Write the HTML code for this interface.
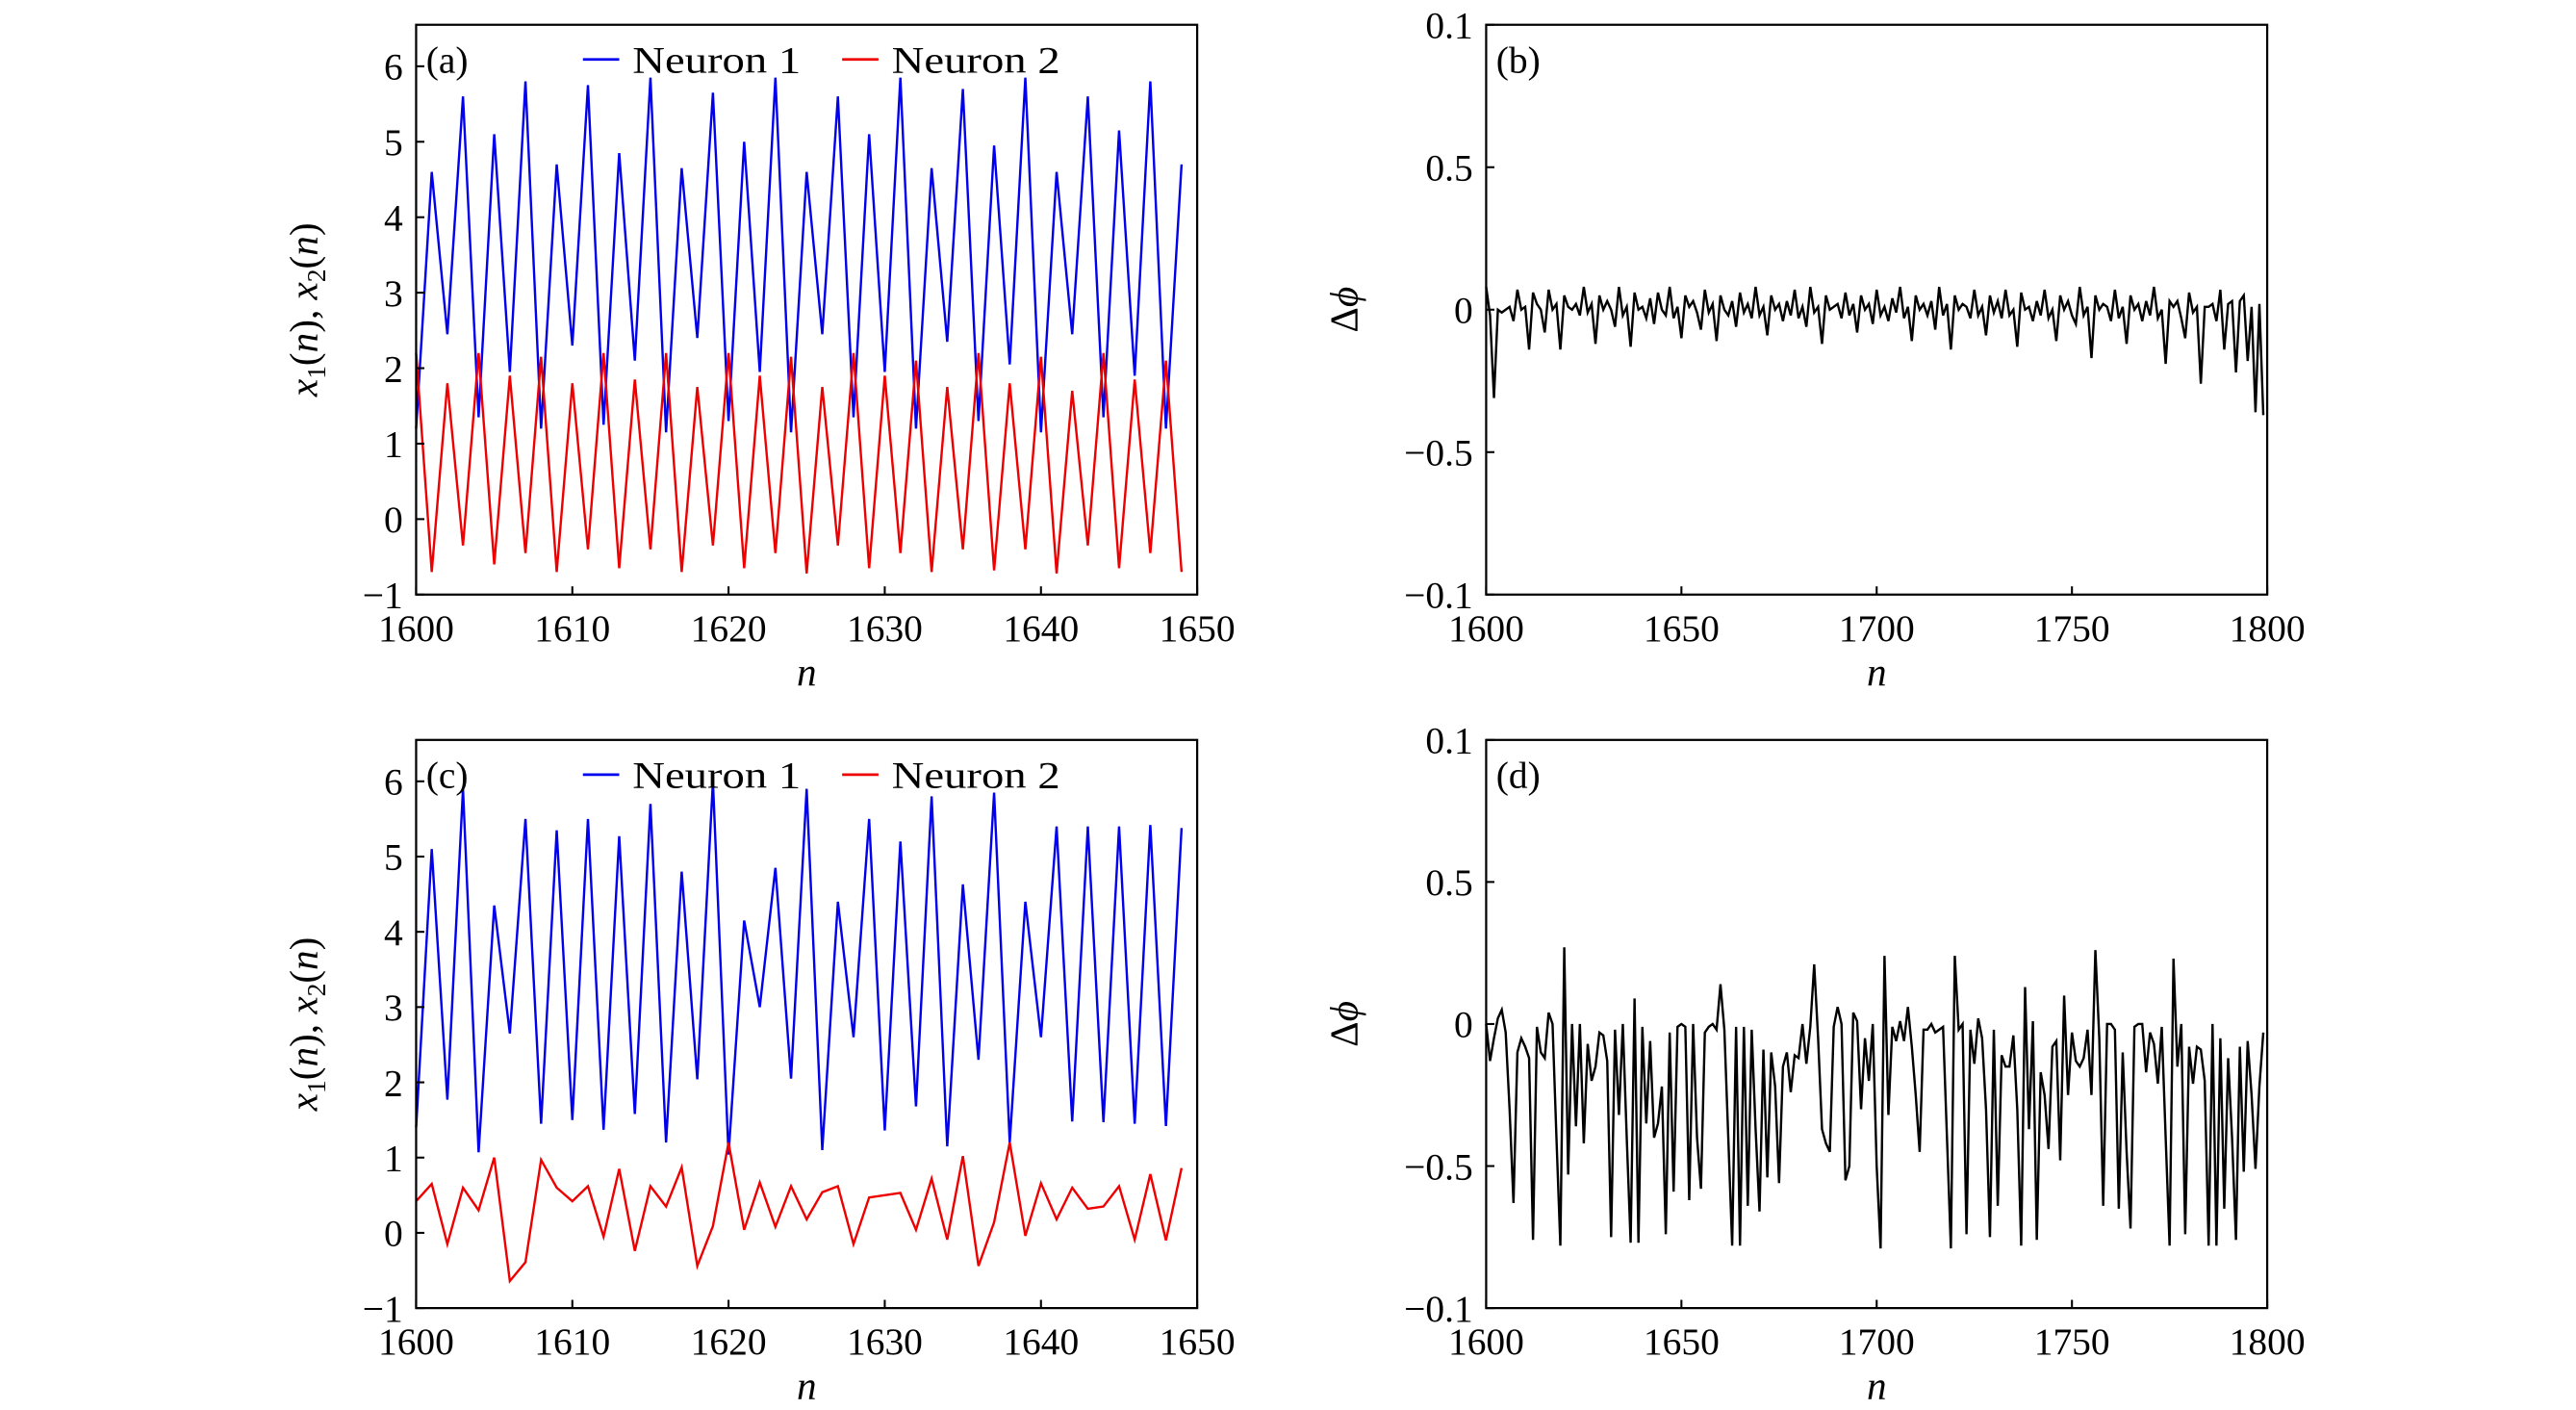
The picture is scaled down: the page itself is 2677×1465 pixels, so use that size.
<!DOCTYPE html>
<html><head><meta charset="utf-8"><style>
html,body{margin:0;padding:0;background:#fff;}
svg{display:block;}
text{font-family:"Liberation Serif",serif;fill:#000;}
</style></head><body>
<svg id="fig" width="2677" height="1465" viewBox="0 0 1560 853.7" preserveAspectRatio="none" xmlns="http://www.w3.org/2000/svg"></svg>
<script>
// ---------- data ----------
const nA = 1600;
const blueA = [1.2,4.6,2.45,5.6,1.35,5.1,1.95,5.8,1.2,4.7,2.3,5.75,1.25,4.85,2.1,5.85,1.15,4.65,2.4,5.65,1.3,5.0,1.95,5.85,1.15,4.6,2.45,5.6,1.35,5.1,1.95,5.85,1.2,4.65,2.35,5.7,1.3,4.95,2.05,5.85,1.15,4.6,2.45,5.6,1.35,5.15,1.9,5.8,1.2,4.7];
const redA = [2.2,-0.7,1.8,-0.35,2.2,-0.6,1.9,-0.45,2.15,-0.7,1.8,-0.4,2.2,-0.65,1.85,-0.4,2.2,-0.7,1.75,-0.35,2.2,-0.65,1.9,-0.45,2.15,-0.72,1.75,-0.35,2.2,-0.65,1.9,-0.45,2.1,-0.7,1.75,-0.4,2.2,-0.68,1.8,-0.4,2.15,-0.72,1.7,-0.35,2.2,-0.65,1.85,-0.45,2.1,-0.7];
const blueC = [1.4,5.1,1.77,5.9,1.07,4.35,2.65,5.5,1.45,5.35,1.5,5.5,1.37,5.27,1.58,5.7,1.2,4.8,2.04,6.0,1.04,4.15,3.0,4.85,2.05,5.9,1.1,4.4,2.6,5.5,1.36,5.2,1.68,5.8,1.15,4.63,2.3,5.85,1.2,4.4,2.6,5.4,1.48,5.4,1.47,5.4,1.45,5.42,1.42,5.38];
const redC = [0.42,0.65,-0.15,0.6,0.3,1.0,-0.64,-0.39,0.97,0.6,0.42,0.62,-0.05,0.85,-0.24,0.62,0.35,0.87,-0.44,0.09,1.2,0.04,0.67,0.08,0.62,0.18,0.54,0.62,-0.15,0.47,0.5,0.53,0.04,0.72,-0.09,1.02,-0.44,0.14,1.2,-0.04,0.66,0.18,0.6,0.32,0.35,0.62,-0.09,0.78,-0.1,0.86];
const dphiB = [0.08,-0.02,-0.31,0.0,-0.01,0.0,0.01,-0.04,0.07,0.0,
0.01,-0.14,0.06,0.02,0.0,-0.08,0.07,0.0,0.02,-0.14,
0.05,0.01,0.0,0.02,-0.02,0.08,-0.01,0.02,-0.12,0.05,
0.0,0.03,0.0,-0.06,0.08,-0.02,0.01,-0.13,0.06,0.0,
0.01,-0.03,0.04,-0.05,0.06,0.0,-0.02,0.08,-0.03,0.01,
-0.1,0.05,0.01,0.03,-0.01,-0.07,0.07,-0.01,0.02,-0.11,
0.05,0.0,-0.02,0.03,-0.06,0.06,-0.01,0.02,-0.03,0.08,
-0.02,0.01,-0.09,0.05,0.0,0.02,-0.04,0.03,-0.02,0.07,
-0.03,0.01,-0.06,0.08,-0.01,0.01,-0.12,0.05,0.0,0.01,
0.02,-0.03,0.06,-0.02,0.02,-0.08,0.05,0.0,0.02,-0.05,
0.07,-0.02,0.01,-0.04,0.04,-0.01,0.08,-0.03,0.01,-0.11,
0.05,0.0,0.02,-0.02,0.03,-0.07,0.08,-0.02,0.02,-0.14,
0.05,0.0,0.02,0.01,-0.03,0.07,-0.02,0.01,-0.09,0.05,
-0.01,0.03,-0.03,0.07,-0.02,0.0,-0.13,0.06,0.0,0.01,
-0.04,0.03,-0.02,0.07,-0.03,0.0,-0.11,0.05,0.0,0.03,
-0.02,-0.05,0.08,-0.02,0.01,-0.17,0.05,0.0,0.02,0.01,
-0.04,0.07,-0.03,0.01,-0.12,0.05,0.0,0.02,-0.04,0.03,
-0.02,0.08,-0.03,0.0,-0.19,0.03,0.01,0.03,-0.03,-0.1,
0.06,-0.01,0.01,-0.26,0.01,0.01,0.02,-0.04,0.07,-0.14,
0.02,0.03,-0.22,0.03,0.05,-0.18,0.01,-0.36,0.02,-0.37];
const dphiD = [0,-0.13,-0.05,0.02,0.05,-0.03,-0.3,-0.63,-0.1,-0.05,-0.08,-0.12,-0.76,-0.01,-0.1,-0.12,0.04,0,-0.4,-0.78,0.27,-0.53,0,-0.36,0,-0.42,-0.07,-0.2,-0.15,-0.03,-0.04,-0.13,-0.75,-0.02,-0.32,0,-0.4,-0.77,0.09,-0.77,-0.01,-0.35,-0.06,-0.4,-0.35,-0.22,-0.74,-0.03,-0.59,-0.01,0,-0.01,-0.62,0,-0.4,-0.58,-0.03,-0.01,0,-0.02,0.14,-0.02,-0.4,-0.78,-0.01,-0.78,-0.01,-0.64,-0.02,-0.37,-0.66,-0.09,-0.54,-0.1,-0.22,-0.56,-0.15,-0.1,-0.24,-0.11,-0.12,0,-0.14,-0.01,0.21,-0.05,-0.37,-0.42,-0.45,-0.01,0.06,0,-0.55,-0.5,0.04,0.01,-0.3,-0.05,-0.2,0,-0.5,-0.79,0.24,-0.32,-0.01,-0.06,0.01,-0.06,0.06,-0.08,-0.25,-0.45,-0.02,-0.02,0,-0.03,-0.02,-0.01,-0.4,-0.79,0.24,-0.02,0,-0.74,-0.02,-0.14,0.02,-0.05,-0.3,-0.75,-0.02,-0.64,-0.11,-0.15,-0.15,-0.04,-0.3,-0.78,0.13,-0.37,0.01,-0.76,-0.17,-0.25,-0.44,-0.08,-0.06,-0.48,0.1,-0.25,-0.03,-0.13,-0.15,-0.12,-0.02,-0.25,0.26,-0.05,-0.64,0,0,-0.02,-0.65,-0.1,-0.45,-0.72,-0.01,0,0,-0.17,-0.03,-0.07,-0.21,-0.01,-0.4,-0.78,0.23,-0.15,0,-0.74,-0.08,-0.21,-0.08,-0.09,-0.2,-0.78,0,-0.78,-0.05,-0.65,-0.12,-0.4,-0.76,-0.08,-0.52,-0.06,-0.25,-0.51,-0.22,-0.03];
const xTicksA = [1600,1610,1620,1630,1640,1650];
const xTicksB = [1600,1650,1700,1750,1800];
const yTicksA = [-1,0,1,2,3,4,5,6];
const yTicksB = [-1,-0.5,0,0.5,1];
const yTickLabelsB = ["\u22120.1","\u22120.5","0","0.5","0.1"];

// ---------- drawing ----------
const NS = "http://www.w3.org/2000/svg";
const svg = document.getElementById('fig');
function mk(tag, attrs, parent){
  const e = document.createElementNS(NS, tag);
  for (const k in attrs) e.setAttribute(k, attrs[k]);
  (parent||svg).appendChild(e);
  return e;
}
function scale(d0,d1,r0,r1){ return v => r0 + (v-d0)/(d1-d0)*(r1-r0); }

function panel(opt){
  const g = mk('g', {});
  
  
  const L=opt.L, R=opt.R, T=opt.T, B=opt.B;
  const sx = scale(opt.x0, opt.x1, L, R);
  const sy = scale(opt.y0, opt.y1, B, T);
  opt.series.forEach(s => {
    let d = '';
    s.data.forEach((v,i) => { d += (i?'L':'M') + sx(opt.start+i).toFixed(2) + ',' + sy(v).toFixed(2); });
    const p = mk('path', {d:d, fill:'none', stroke:s.color, 'stroke-width':1.4, 'stroke-linejoin':'miter'}, g);
    
    
  });
  const f = mk('rect', {x:L, y:T, width:R-L, height:B-T, fill:'none', stroke:'#000', 'stroke-width':1.3}, g);
  
  
  opt.xTicks.forEach(t => {
    const x = sx(t);
    mk('line', {x1:x, x2:x, y1:B, y2:B-5, stroke:'#000', 'stroke-width':1.2}, g);
    const tx = mk('text', {x:x, y:B+28, 'font-size':23, 'text-anchor':'middle'}, g);
    tx.textContent = t;
    
    
  });
  opt.yTicks.forEach((t,i) => {
    const y = sy(t);
    mk('line', {x1:L, x2:L+5, y1:y, y2:y, stroke:'#000', 'stroke-width':1.2}, g);
    const ty = mk('text', {x:L-8, y:y+8, 'font-size':23, 'text-anchor':'end'}, g);
    ty.textContent = opt.yLabels ? opt.yLabels[i] : (t<0 ? '\u2212'+(-t) : t);
    
    
  });
  const xt = mk('text', {x:(L+R)/2, y:B+55, 'font-size':24, 'font-style':'italic', 'text-anchor':'middle'}, g);
  xt.textContent = 'n';
  
  
  const pl = mk('text', {x:L+6, y:T+29, 'font-size':23}, g);
  pl.textContent = opt.label;
  
  
  const cy = (T+B)/2;
  const yt = mk('text', {x:0, y:0, 'font-size':24, 'text-anchor':'middle', transform:'translate('+opt.yTitleX+','+cy+') rotate(-90)'}, g);
  
  
  if (opt.kind === 'x') {
    yt.innerHTML = '<tspan font-style="italic">x</tspan><tspan font-size="16" dy="5">1</tspan><tspan dy="-5">(</tspan><tspan font-style="italic">n</tspan><tspan>),  </tspan><tspan font-style="italic">x</tspan><tspan font-size="16" dy="5">2</tspan><tspan dy="-5">(</tspan><tspan font-style="italic">n</tspan><tspan>)</tspan>';
  } else {
    yt.innerHTML = '<tspan>\u0394</tspan><tspan font-style="italic">\u03d5</tspan>';
  }
  if (opt.legend) {
    const lg = mk('g', {}, g);
    
    
    const ly = T + 21;
    [[353,'#0000ee','Neuron 1'],[510,'#ee0000','Neuron 2']].forEach(e => {
      const ex = e[0] - 252 + L;
      const le = mk('g', {}, lg);
      
      
      mk('line', {x1:ex, x2:ex+22, y1:ly, y2:ly, stroke:e[1], 'stroke-width':1.6}, le);
      const t = mk('text', {x:ex+30, y:ly+8, 'font-size':23, textLength:102, lengthAdjust:'spacingAndGlyphs'}, le);
      t.textContent = e[2];
    });
  }
}

panel({name:'panel-a', L:252, R:725, T:15, B:360, x0:1600, x1:1650, y0:-1, y1:6.55, start:nA,
  xTicks:xTicksA, yTicks:yTicksA, label:'(a)', kind:'x', yTitleX:192, legend:true,
  series:[{name:'neuron-1-line', color:'#0000ee', data:blueA},{name:'neuron-2-line', color:'#ee0000', data:redA}]});
panel({name:'panel-b', L:900, R:1373, T:15, B:360, x0:1600, x1:1800, y0:-1, y1:1, start:nA,
  xTicks:xTicksB, yTicks:yTicksB, yLabels:yTickLabelsB, label:'(b)', kind:'phi', yTitleX:822,
  series:[{name:'phase-difference-line', color:'#000', data:dphiB}]});
panel({name:'panel-c', L:252, R:725, T:448, B:792, x0:1600, x1:1650, y0:-1, y1:6.55, start:nA,
  xTicks:xTicksA, yTicks:yTicksA, label:'(c)', kind:'x', yTitleX:192, legend:true,
  series:[{name:'neuron-1-line', color:'#0000ee', data:blueC},{name:'neuron-2-line', color:'#ee0000', data:redC}]});
panel({name:'panel-d', L:900, R:1373, T:448, B:792, x0:1600, x1:1800, y0:-1, y1:1, start:nA,
  xTicks:xTicksB, yTicks:yTicksB, yLabels:yTickLabelsB, label:'(d)', kind:'phi', yTitleX:822,
  series:[{name:'phase-difference-line', color:'#000', data:dphiD}]});
</script>
</body></html>
